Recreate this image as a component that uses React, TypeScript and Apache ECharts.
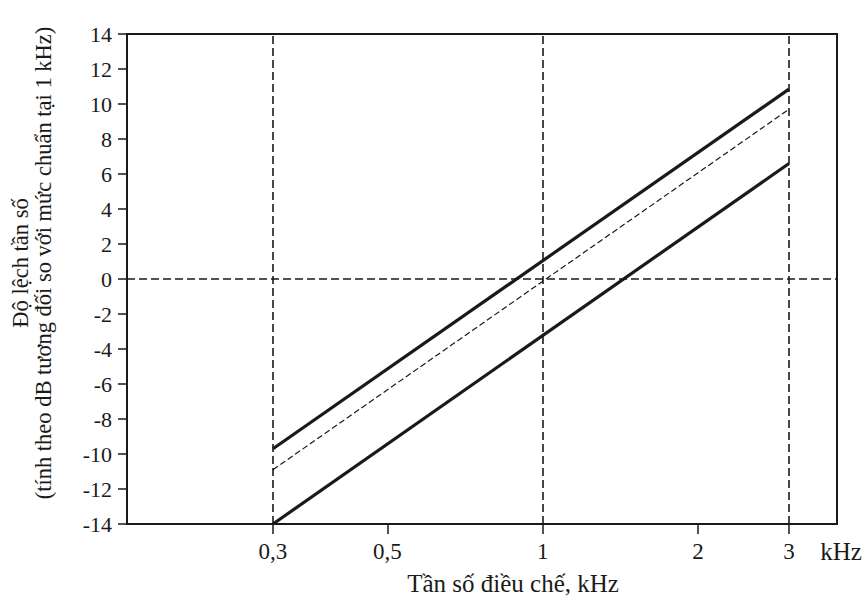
import React, { useEffect, useRef } from "react";
import * as echarts from "echarts";

// Frequency points (kHz) where the curves are read
const freqs = [0.3, 3];
// Upper limit (dB)
const upperDb = [-9.7, 10.85];
// Nominal / reference (dB, dashed)
const nominalDb = [-10.9, 9.7];
// Lower limit (dB)
const lowerDb = [-14, 6.6];

// Axis tick labels
const xTicks = [0.3, 0.5, 1, 2, 3];
const gridX = [0.3, 1, 3];
const gridY = [0];

const yTitle1 = "Độ lệch tần số";
const yTitle2 = "(tính theo dB tương đối so với mức chuẩn tại 1 kHz)";
const xTitle = "Tần số điều chế, kHz";
const xUnit = "kHz";

const FONT = "'Liberation Serif', 'Times New Roman', serif";
const INK = "#1a1a1a";

export default function App() {
  const ref = useRef<HTMLDivElement>(null);
  useEffect(() => {
    if (!ref.current) return;
    const chart = echarts.init(ref.current, undefined, { renderer: "svg" });
    const pairs = (ys: number[]) => freqs.map((f, i) => [f, ys[i]]);
    const dashed = { type: [8, 4] as any, width: 1.6, color: INK };
    chart.setOption({
      animation: false,
      backgroundColor: "#ffffff",
      grid: {
        left: 127,
        right: 27,
        top: 34,
        bottom: 79,
        show: true,
        borderColor: INK,
        borderWidth: 2,
        backgroundColor: "transparent",
      },
      xAxis: {
        type: "log",
        logBase: 10,
        min: 0.1564,
        max: 3.717,
        axisLine: { show: true, onZero: false, lineStyle: { color: INK, width: 2 } },
        axisTick: {
          show: true,
          customValues: xTicks,
          length: 10,
          lineStyle: { color: INK, width: 1.5 },
        },
        axisLabel: {
          show: true,
          customValues: xTicks,
          margin: 16,
          fontFamily: FONT,
          fontSize: 23,
          color: INK,
          formatter: (v: number) => String(v).replace(".", ","),
        },
        splitLine: { show: false },
        minorTick: { show: false },
        minorSplitLine: { show: false },
      },
      yAxis: {
        type: "value",
        min: -14,
        max: 14,
        interval: 2,
        axisLine: { show: true, onZero: false, lineStyle: { color: INK, width: 2 } },
        axisTick: { show: true, length: 9, lineStyle: { color: INK, width: 1.5 } },
        axisLabel: {
          margin: 15,
          fontFamily: FONT,
          fontSize: 22,
          color: INK,
        },
        splitLine: { show: false },
      },
      graphic: [
        {
          type: "text",
          x: 32,
          y: 263,
          rotation: Math.PI / 2,
          style: {
            text: yTitle1 + "\n" + yTitle2,
            fontFamily: FONT,
            fontSize: 22.5,
            lineHeight: 23,
            fill: INK,
            align: "center",
            verticalAlign: "middle",
          },
        },
        {
          type: "text",
          x: 513,
          y: 583,
          style: {
            text: xTitle,
            fontFamily: FONT,
            fontSize: 25,
            fill: INK,
            align: "center",
            verticalAlign: "middle",
          },
        },
        {
          type: "text",
          x: 841,
          y: 551,
          style: {
            text: xUnit,
            fontFamily: FONT,
            fontSize: 25,
            fill: INK,
            align: "center",
            verticalAlign: "middle",
          },
        },
      ],
      series: [
        {
          type: "line",
          data: pairs(nominalDb),
          symbol: "none",
          lineStyle: { color: INK, width: 1.2, type: [6, 3] },
          z: 3,
          markLine: {
            silent: true,
            symbol: ["none", "none"],
            label: { show: false },
            lineStyle: dashed,
            data: [
              ...gridX.map((x) => ({ xAxis: x })),
              ...gridY.map((y) => ({ yAxis: y })),
            ],
          },
        },
        {
          type: "line",
          data: pairs(upperDb),
          symbol: "none",
          lineStyle: { color: INK, width: 3.2 },
          z: 4,
        },
        {
          type: "line",
          data: pairs(lowerDb),
          symbol: "none",
          lineStyle: { color: INK, width: 3.2 },
          z: 4,
        },
      ],
    });
    return () => chart.dispose();
  }, []);
  return (
    <div
      ref={ref}
      style={{ position: "fixed", left: 0, top: 0, width: 864, height: 603 }}
    />
  );
}
